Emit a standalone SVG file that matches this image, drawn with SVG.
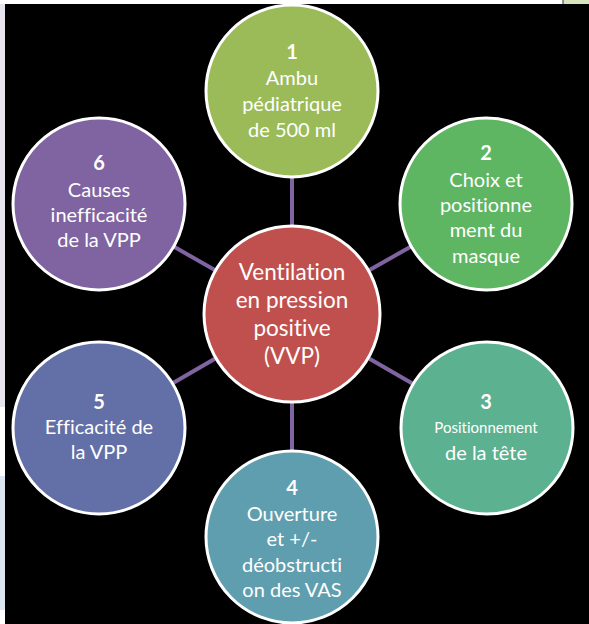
<svg xmlns="http://www.w3.org/2000/svg" width="589" height="624" viewBox="0 0 589 624">
<style>
.node circle{stroke:#fff;stroke-width:3}
text{font-family:Lato,"Open Sans","Liberation Sans",sans-serif;fill:#fff;text-anchor:middle;font-size:20px;font-variant-ligatures:none;font-feature-settings:"liga" 0}
.n{font-weight:bold}
.c{font-size:22.5px}
.sm{font-size:15px}
#connectors line{stroke:#8064A2;stroke-width:4}
</style>
<rect x="0" y="0" width="589" height="624" fill="#fff"/>
<rect x="0" y="4" width="5" height="403" fill="#E8E4EE"/>
<rect x="0" y="476" width="5" height="134" fill="#DCE6F2"/>
<rect x="563" y="0" width="26" height="4" fill="#D7E4BD"/>
<line x1="563" y1="0" x2="563" y2="4" stroke="#333" stroke-width="1"/>
<rect x="5" y="4" width="584" height="620" fill="#000"/>
<g id="connectors">
<line x1="292" y1="314" x2="292" y2="91"/>
<line x1="292" y1="314" x2="486" y2="204"/>
<line x1="292" y1="314" x2="486" y2="426"/>
<line x1="292" y1="314" x2="292" y2="537"/>
<line x1="292" y1="314" x2="99" y2="426"/>
<line x1="292" y1="314" x2="99" y2="204"/>
</g>
<g id="center" class="node">
<circle cx="292" cy="314" r="88" fill="#C0504D"/>
<text class="c" x="292" y="280">Ventilation</text>
<text class="c" x="292" y="308">en pression</text>
<text class="c" x="292" y="336">positive</text>
<text class="c" x="292" y="364">(VVP)</text>
</g>
<g id="n1" class="node">
<circle cx="292" cy="91" r="86" fill="#9BBB59"/>
<text class="n" x="292" y="59">1</text>
<text x="292" y="85">Ambu</text>
<text x="292" y="111">pédiatrique</text>
<text x="292" y="137">de 500 ml</text>
</g>
<g id="n2" class="node">
<circle cx="486" cy="204" r="86" fill="#5EB562"/>
<text class="n" x="486" y="160">2</text>
<text x="486" y="187">Choix et</text>
<text x="486" y="212">positionne</text>
<text x="486" y="237">ment du</text>
<text x="486" y="263">masque</text>
</g>
<g id="n3" class="node">
<circle cx="487" cy="428" r="86" fill="#5BB190"/>
<text class="n" x="486" y="409">3</text>
<text class="sm" x="486" y="433">Positionnement</text>
<text x="486" y="460">de la tête</text>
</g>
<g id="n4" class="node">
<circle cx="292" cy="537" r="86" fill="#5F9EAE"/>
<text class="n" x="292" y="495">4</text>
<text x="292" y="521">Ouverture</text>
<text x="292" y="546">et +/-</text>
<text x="292" y="572">déobstructi</text>
<text x="292" y="597">on des VAS</text>
</g>
<g id="n5" class="node">
<circle cx="99" cy="428" r="86" fill="#6370A8"/>
<text class="n" x="99" y="409">5</text>
<text x="99" y="434">Efficacité de</text>
<text x="99" y="459">la VPP</text>
</g>
<g id="n6" class="node">
<circle cx="99" cy="204" r="86" fill="#8064A2"/>
<text class="n" x="99" y="170">6</text>
<text x="99" y="197">Causes</text>
<text x="99" y="222">inefficacité</text>
<text x="99" y="247">de la VPP</text>
</g>
</svg>
